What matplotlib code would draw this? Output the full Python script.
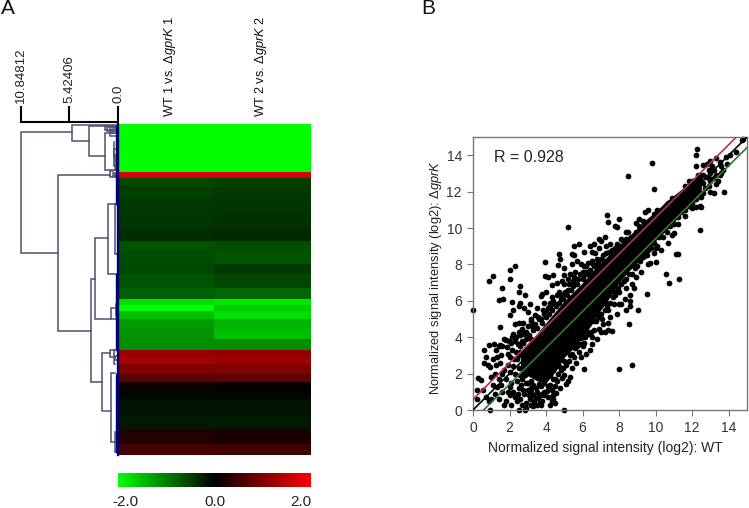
import matplotlib
matplotlib.use("Agg")
import numpy as np
import matplotlib.pyplot as plt
from matplotlib.colors import LinearSegmentedColormap

plt.rcParams['font.family'] = ['Liberation Sans', 'DejaVu Sans']
plt.rcParams['mathtext.fontset'] = 'custom'
plt.rcParams['mathtext.it'] = 'Liberation Sans:italic'
plt.rcParams['mathtext.rm'] = 'Liberation Sans'

# heatmap rows, top to bottom
row_edges = [0, 48, 54, 62, 75, 90, 105, 117, 125, 140, 150, 164, 175, 181, 187, 195, 205, 215, 226,
             233, 240, 250, 258, 266, 275, 290, 305, 320, 331]
wt1 = [-2.0, 1.7, -0.55, -0.5, -0.45, -0.42, -0.35, -0.65, -0.6, -0.55, -0.65, -0.75, -1.75, -2.0, -1.5, -1.2,
       -1.15, -1.1, 1.2, 1.3, 1.0, 0.7, 0.12, -0.05, -0.15, -0.2, 0.25, 0.55]
wt2 = [-2.0, 1.7, -0.5, -0.45, -0.42, -0.38, -0.32, -0.6, -0.65, -0.45, -0.55, -0.8, -1.8, -1.6, -1.75, -1.4,
       -1.5, -1.1, 1.15, 1.25, 1.0, 0.75, 0.08, -0.05, -0.15, -0.2, 0.2, 0.5]
col_names = ['WT 1 vs. Δ$\\mathit{gprK}$ 1', 'WT 2 vs. Δ$\\mathit{gprK}$ 2']
scale_ticks = [10.84812, 5.42406, 0.0]
scale_labels = ['10.84812', '5.42406', '0.0']
cbar_ticks = [-1.84, 0.0, 1.78]
cbar_labels = ['-2.0', '0.0', '2.0']

# dendrogram merges: height, top row, bottom row, height of top child, height of bottom child
merge_h = [10.85, 5.15, 3.25, 1.45, 6.7, 3.0, 2.55, 1.1, 0.3, 0.75, 1.75, 0.85, 0.8, 0.3,
           1.45, 1.2, 0.95, 0.7, 0.5, 0.4, 0.35, 0.9, 0.6, 0.35, 0.5, 0.3, 0.2]
merge_top = [8, 1, 2, 9, 51, 155, 114, 80, 80, 184, 229, 226, 249, 308,
             2, 3, 3, 5, 18, 25, 31, 47, 49, 50, 226, 232, 180]
merge_bot = [129, 17, 32, 46, 207, 258, 195, 150, 130, 195, 287, 233, 318, 328,
             6, 7, 12, 9, 34, 42, 46, 53, 52, 53, 240, 236, 192]
merge_top_child = [5.15, 0, 0, 0.4, 0.85, 2.55, 1.1, 0.3, 0, 0.3, 0.85, 0.5, 0.3, 0,
                   0, 0, 0, 0, 0.5, 0, 0, 0.6, 0, 0, 0, 0, 0]
merge_bot_child = [6.7, 3.25, 1.45, 0, 3.0, 1.75, 0.75, 0, 0, 0, 0.8, 0.3, 0.3, 0,
                   0, 0, 0, 0, 0.4, 0.35, 0, 0.35, 0, 0, 0.3, 0, 0]

# scatter: solid core of the cloud
band_x = [2.6, 3.0, 3.5, 4.0, 4.5, 5.0, 5.5, 6.0, 6.5, 7.0, 7.5, 8.0, 8.5, 9.0, 9.5, 10.0, 10.5, 11.0, 11.5, 12.0, 12.5]
band_lo = [2.0, 1.9, 1.6, 1.5, 2.1, 2.9, 3.4, 4.0, 4.7, 5.5, 6.2, 7.0, 7.6, 8.1, 8.7, 9.3, 9.8, 10.3, 10.9, 11.5, 12.0]
band_hi = [3.2, 3.6, 4.2, 4.8, 5.4, 6.0, 6.5, 7.0, 7.6, 8.1, 8.6, 9.0, 9.5, 10.0, 10.5, 10.9, 11.4, 11.8, 12.2, 12.7, 13.1]

top_pts = [(14.8, 14.9), (14.7, 14.85), (14.4, 14.2), (14.05, 14.0), (13.85, 13.9), (12.25, 14.35), (12.2, 14.0),
           (12.2, 13.4), (12.6, 13.45), (12.8, 13.5), (13.0, 13.7), (13.3, 13.85), (13.5, 13.65), (13.6, 13.4),
           (13.2, 13.2), (13.0, 13.0), (12.75, 12.8), (12.3, 12.9), (11.8, 12.6), (12.0, 12.6), (11.6, 12.3),
           (12.5, 12.5), (13.4, 12.6), (13.5, 12.9), (13.7, 13.2), (13.75, 12.0), (13.2, 11.9), (13.0, 12.0),
           (13.3, 12.4), (12.6, 11.9), (12.9, 12.3), (12.0, 11.1), (12.4, 11.2), (12.5, 11.15), (12.2, 11.15),
           (11.6, 10.65), (12.45, 9.9), (11.2, 10.2), (11.1, 11.6), (10.9, 11.65), (10.7, 11.4), (10.4, 11.0),
           (10.1, 11.0), (9.9, 10.75), (9.6, 11.0), (9.4, 10.9), (12.6, 12.9), (12.9, 13.2), (12.2, 12.2),
           (12.4, 12.7), (12.7, 12.2), (13.0, 12.6), (13.3, 12.9), (12.5, 11.7), (12.1, 11.6), (11.8, 11.3),
           (13.9, 13.5), (13.6, 13.0), (12.3, 12.0), (12.9, 12.75), (13.2, 12.75), (12.6, 12.5), (13.1, 13.4)]
upper_pts = [(9.8, 13.55), (8.5, 12.85), (9.9, 12.15), (8.0, 10.5), (7.35, 10.7), (7.4, 10.35), (7.75, 10.1),
             (7.9, 10.05), (8.4, 9.8), (8.5, 9.8), (9.1, 10.5), (8.9, 10.3), (9.3, 10.4), (9.1, 10.1), (9.5, 10.3),
             (7.2, 9.5), (7.0, 9.3), (6.9, 9.4), (7.3, 9.0), (7.5, 9.1), (8.1, 9.4), (8.3, 9.2), (8.8, 9.6),
             (5.2, 10.05), (5.55, 9.0), (5.8, 9.1), (4.7, 8.55), (4.75, 8.3), (5.4, 8.55), (5.55, 8.5), (6.1, 8.7),
             (6.4, 9.0), (6.5, 8.7), (6.6, 9.1), (6.7, 8.6), (6.9, 8.9), (3.95, 8.15), (4.65, 7.95), (5.0, 7.8),
             (5.4, 8.0), (5.7, 8.2), (5.9, 8.0), (6.1, 7.9), (6.3, 8.1), (6.0, 7.6), (5.6, 7.6), (4.4, 7.4),
             (4.1, 7.3), (3.95, 7.35), (4.3, 6.85), (4.7, 6.5), (5.0, 6.9), (4.85, 7.1), (5.2, 7.2), (4.0, 6.5),
             (3.8, 6.35), (3.7, 6.25), (3.9, 5.9), (4.3, 6.2), (4.6, 7.0), (5.3, 7.5), (5.5, 7.1), (5.0, 7.4),
             (6.5, 8.2), (6.8, 8.3), (7.1, 8.5), (7.6, 8.8), (7.9, 8.9), (8.5, 9.4), (4.5, 5.8), (4.1, 5.6),
             (3.5, 5.6), (3.4, 5.2), (3.6, 5.0), (3.2, 4.9), (3.3, 4.4), (3.0, 4.6), (2.8, 4.2), (3.9, 5.3),
             (4.2, 5.9), (4.8, 6.1), (5.2, 6.6), (5.6, 6.9), (6.2, 7.6), (6.6, 7.9)]
left_pts = [(0.0, 5.5), (0.9, 7.1), (1.1, 7.35), (2.0, 7.7), (2.3, 7.9), (2.0, 7.2), (2.6, 6.8), (2.5, 6.5),
            (2.85, 6.3), (3.1, 5.85), (2.15, 5.95), (1.65, 6.1), (1.4, 6.05), (1.6, 6.7), (2.6, 5.9), (2.8, 5.6),
            (3.0, 5.4), (2.0, 5.2), (2.2, 5.5), (2.5, 5.7), (1.5, 4.55), (2.3, 4.7), (2.5, 4.8), (2.2, 4.2),
            (2.3, 3.8), (2.45, 3.6), (1.7, 3.9), (1.8, 3.85), (1.4, 3.5), (1.55, 3.0), (1.3, 2.9), (1.2, 2.0),
            (1.4, 1.7), (1.1, 1.4), (0.6, 3.3), (0.7, 2.9), (0.9, 3.55), (0.8, 2.45), (0.6, 2.6), (0.95, 2.35),
            (1.15, 3.65), (1.25, 3.3), (1.6, 3.5), (1.1, 2.8), (1.5, 2.6), (1.7, 2.2), (1.9, 3.1), (2.1, 3.7),
            (2.0, 2.9), (2.35, 3.2), (2.6, 4.1), (2.7, 3.8), (2.6, 3.2), (2.9, 3.9), (2.4, 2.8), (1.6, 2.0),
            (1.8, 1.7), (0.3, 1.75), (0.45, 1.65), (0.2, 1.1), (0.55, 1.1), (0.2, 0.6), (0.7, 0.7), (0.85, 0.5),
            (0.95, 0.0), (1.2, 0.9), (1.25, 2.45), (1.5, 3.55), (2.15, 4.0), (2.7, 4.45), (3.15, 5.0)]
lower_pts = [(6.05, 2.25), (8.0, 2.25), (8.7, 2.5), (5.0, 0.0), (2.5, 0.0), (2.85, 0.0), (2.9, 0.1), (8.55, 4.7),
             (9.05, 5.5), (9.5, 6.35), (8.6, 5.7), (8.35, 5.5), (8.6, 6.0), (8.1, 5.85), (8.0, 5.8), (8.6, 6.3),
             (8.7, 6.9), (10.55, 7.5), (10.75, 7.0), (11.25, 7.2), (11.1, 8.55), (11.2, 8.55), (10.0, 8.15), (9.7, 8.1),
             (7.4, 4.8), (7.4, 4.4), (7.6, 4.35), (7.2, 4.3), (7.0, 4.3), (6.9, 4.45), (6.5, 4.0), (5.9, 3.95),
             (6.4, 3.3), (6.1, 3.7), (5.8, 3.2), (5.6, 3.4), (5.3, 3.0), (5.3, 1.8), (5.2, 1.6), (5.1, 1.45), (4.6, 1.6),
             (4.4, 1.7), (4.5, 1.3), (4.4, 0.8), (4.4, 0.6), (4.5, 0.4), (4.3, 0.5), (4.1, 0.7), (3.9, 0.8),
             (3.7, 0.25), (3.5, 0.3), (3.3, 0.2), (3.1, 0.6), (2.9, 0.4), (2.7, 0.3), (2.4, 0.5), (2.1, 0.25),
             (1.8, 0.5), (1.7, 0.3), (2.0, 0.8), (2.2, 1.0), (2.5, 1.2), (2.8, 0.9), (3.0, 1.1), (3.3, 0.8), (3.5, 1.0),
             (3.7, 1.3), (3.9, 1.5), (4.1, 1.3), (4.2, 1.9), (3.2, 1.6), (2.9, 1.5), (2.7, 1.7), (2.4, 1.6), (2.1, 1.5),
             (3.5, 1.8), (3.8, 2.0), (3.1, 2.0), (4.4, 2.2), (4.7, 2.4), (5.0, 2.7), (5.2, 3.4), (4.9, 3.2), (5.5, 3.9),
             (5.8, 4.2), (6.2, 4.4), (6.6, 4.9), (6.3, 4.9), (7.0, 5.3), (7.4, 5.5), (7.7, 5.8), (8.0, 6.5), (7.8, 6.3),
             (8.4, 6.7), (8.9, 7.3), (9.2, 7.6), (9.6, 8.0), (9.9, 8.6), (10.3, 8.8), (10.7, 9.2), (11.0, 9.7), (10.9, 9.6),
             (7.3, 5.9), (6.8, 5.6), (6.0, 4.7), (5.5, 4.5), (5.1, 3.9), (4.6, 3.0), (4.3, 2.7), (10.0, 8.9), (9.5, 8.5)]
# dots hugging the solid core
fringe_hi = [(2.6, 3.5), (2.75, 3.7), (2.9, 4.3), (3.05, 4.1), (3.15, 3.9), (3.25, 4.6), (3.4, 4.7), (3.5, 4.5),
             (3.55, 5.1), (3.7, 5.0), (3.75, 4.8), (3.85, 5.5), (4.0, 5.1), (4.0, 5.4), (4.15, 5.3), (4.2, 5.7),
             (4.35, 5.5), (4.4, 6.0), (4.55, 5.7), (4.6, 6.3), (4.7, 5.9), (4.85, 6.3), (4.95, 6.1), (5.05, 6.5),
             (5.15, 6.3), (5.25, 6.9), (5.35, 6.6), (5.45, 6.8), (5.55, 7.3), (5.7, 6.9), (5.75, 7.2), (5.85, 7.5),
             (6.0, 7.2), (6.1, 7.4), (6.2, 7.9), (6.3, 7.5), (6.4, 7.7), (6.55, 8.0), (6.7, 7.9), (6.85, 8.1),
             (7.0, 8.3), (7.15, 8.2), (7.3, 8.6), (7.45, 8.7), (7.6, 8.5), (7.75, 8.9), (7.9, 9.1), (8.05, 9.0),
             (8.2, 9.3), (8.35, 9.4), (8.5, 9.2), (8.65, 9.5), (8.8, 9.4), (8.95, 9.8), (9.1, 9.7), (9.25, 9.9),
             (9.4, 10.0), (9.55, 10.2), (9.7, 10.4), (9.85, 10.3), (10.0, 10.6), (10.2, 10.7), (10.35, 10.9),
             (10.55, 11.2), (10.75, 11.1), (10.95, 11.3), (11.15, 11.5), (11.35, 11.75), (11.5, 12.0)]
fringe_lo = [(3.0, 1.5), (3.15, 1.2), (3.3, 1.4), (3.45, 1.2), (3.6, 1.45), (3.75, 0.9), (3.9, 1.0), (4.05, 1.05),
             (4.2, 1.4), (4.35, 1.1), (4.5, 1.7), (4.65, 2.0), (4.8, 2.2), (4.95, 2.3), (5.1, 2.5), (5.25, 2.7),
             (5.4, 3.1), (5.55, 2.9), (5.7, 3.5), (5.85, 3.6), (6.0, 3.5), (6.15, 4.0), (6.3, 4.2), (6.45, 4.3),
             (6.6, 4.4), (6.75, 4.9), (6.9, 5.1), (7.05, 5.0), (7.2, 5.5), (7.35, 5.7), (7.5, 5.9), (7.65, 6.2),
             (7.8, 6.5), (7.95, 6.7), (8.1, 6.9), (8.25, 7.1), (8.4, 7.2), (8.55, 7.5), (8.7, 7.5), (8.85, 7.8),
             (9.0, 7.9), (9.15, 8.2), (9.3, 8.4), (9.45, 8.5), (9.6, 8.8), (9.75, 8.9), (9.9, 9.2), (10.05, 9.0),
             (10.2, 9.5), (10.4, 9.5), (10.6, 9.8), (10.8, 10.1), (11.0, 10.2), (11.2, 10.6), (11.4, 10.9),
             (11.6, 11.0), (11.8, 11.2), (12.0, 11.4), (12.2, 11.6)]
corner_pts = [(1.9, 1.0), (2.05, 1.25), (2.3, 0.7), (2.45, 0.9), (2.6, 0.6), (2.65, 1.4), (2.75, 1.1), (2.85, 1.9),
              (3.05, 0.85), (3.2, 1.0), (3.35, 0.5), (3.45, 0.65), (3.6, 0.75), (3.65, 0.5), (3.8, 0.5), (2.3, 2.0),
              (2.55, 1.9), (2.5, 2.3), (2.75, 2.2), (2.2, 2.4), (2.0, 2.1), (1.9, 2.5), (2.25, 2.8), (2.5, 3.0),
              (2.15, 3.3), (1.85, 3.45), (1.95, 3.8), (2.35, 4.0), (2.5, 4.3), (2.75, 4.8), (1.0, 1.8), (1.3, 1.25),
              (1.55, 1.35), (1.6, 1.0), (1.45, 0.6), (1.0, 0.6), (4.2, 0.25), (3.15, 0.25), (4.55, 0.95), (4.75, 1.2),
              (4.85, 1.75), (5.0, 1.9), (5.4, 2.3), (5.65, 2.6), (5.9, 2.9), (6.2, 3.1), (6.5, 3.6), (6.8, 3.9),
              (7.1, 4.7), (7.5, 5.1), (7.9, 5.3), (8.3, 6.1), (8.8, 6.7)]

line_offsets = [0.0, 0.58, -0.58]
line_colors = ['black', '#c0303f', '#2a7a3a']
scatter_ticks = [0, 2, 4, 6, 8, 10, 12, 14]
r_text = 'R = 0.928'

W, H = 749, 508


def box(left, top, right, bottom):
    return [left / W, 1 - bottom / H, (right - left) / W, (bottom - top) / H]


gr = LinearSegmentedColormap.from_list('gr', ['#00ff00', '#000000', '#ff0000'])
fig = plt.figure(figsize=(W / 100, H / 100), dpi=100)

# heatmap
ax = fig.add_axes(box(117, 124, 311, 455))
ax.pcolormesh([0, 1, 2], row_edges, np.array([wt1, wt2]).T, cmap=gr, vmin=-2, vmax=2)
ax.set_ylim(331, 0)
ax.axis('off')

# dendrogram, same rows as the heatmap
den = fig.add_axes(box(21, 124, 118, 455))
den.set_xlim(10.848, 0)
den.set_ylim(331, 0)
den.axis('off')
den_col = '#50506e'
for h, t, b, tc, bc in zip(merge_h, merge_top, merge_bot, merge_top_child, merge_bot_child):
    den.plot([tc, h, h, bc], [t, t, b, b], color=den_col, lw=1.1, solid_joinstyle='miter', clip_on=False)
den.plot([0.05, 0.05], [0, 331], color='#000070', lw=1.7, clip_on=False)
den.plot([0.25, 0.25], [2, 80], color='#000070', lw=1.0, clip_on=False)
den.plot([0.2, 0.2], [150, 226], color='#000070', lw=1.0, clip_on=False)
den.plot([0.2, 0.2], [250, 328], color='#000070', lw=1.0, clip_on=False)

# height scale above the dendrogram
sc = fig.add_axes(box(21, 107, 118, 122))
sc.set_xlim(10.848, 0)
sc.set_ylim(0, 1)
sc.patch.set_alpha(0)
for s in ['top', 'left', 'right']:
    sc.spines[s].set_visible(False)
sc.spines['bottom'].set_linewidth(1.5)
sc.spines['bottom'].set_position(('data', 0))
sc.set_yticks([])
sc.set_xticks([])
for t in scale_ticks:
    sc.plot([t, t], [0, 1], color='black', lw=1.5, clip_on=False)
for t, l in zip(scale_ticks, scale_labels):
    sc.text(t, 1.3, l, rotation=90, ha='center', va='bottom', fontsize=9.5, color='#222222', clip_on=False)

for x, name in zip([170, 261], col_names):
    fig.text(x / W, 1 - 117 / H, name, rotation=90, ha='center', va='bottom', fontsize=9.2, color='#111111')

# colour key
cb = fig.add_axes(box(118, 473, 311, 487))
cb.imshow(np.linspace(-2, 2, 256).reshape(1, -1), cmap=gr, aspect='auto', extent=[-2, 2, 0, 1], vmin=-2, vmax=2)
cb.axis('off')
for t, l in zip(cbar_ticks, cbar_labels):
    cb.text(t, -0.55, l, ha='center', va='top', fontsize=11, color='#222222')

# scatter
sx = fig.add_axes(box(473, 137, 747, 410))
sx.fill_between(band_x, band_lo, band_hi, color='black', lw=0, zorder=2)
for pts in [top_pts, upper_pts, left_pts, lower_pts, fringe_hi, fringe_lo, corner_pts]:
    xs, ys = zip(*pts)
    sx.scatter(xs, ys, s=17, color='black', lw=0, zorder=2, clip_on=False)
for off, c in zip(line_offsets, line_colors):
    sx.plot([0, 15], [off, 15 + off], color=c, lw=1.2, zorder=3)
sx.set_xlim(0, 15)
sx.set_ylim(0, 15)
sx.set_xticks(scatter_ticks)
sx.set_yticks(scatter_ticks)
sx.tick_params(length=4, width=0.8, color='#777777', labelcolor='#333333', labelsize=10, pad=4)
for s in sx.spines.values():
    s.set_color('#777777')
    s.set_linewidth(1.0)
sx.text(1.15, 13.85, r_text, fontsize=11.5, color='#222222', va='center')
fig.text(605 / W, 1 - 448 / H, 'Normalized signal intensity (log2): WT', ha='center', va='center', fontsize=10,
         color='#222222')
fig.text(436 / W, 1 - 277 / H, 'Normalized signal intensity (log2): Δ$\\mathit{gprK}$', rotation=90, ha='center',
         va='center', fontsize=9.3, color='#222222')

fig.text(1 / W, 1 - 9 / H, 'A', fontsize=15, va='center', color='#111111')
fig.text(421 / W, 1 - 9 / H, 'B', fontsize=15, va='center', color='#111111')

fig.savefig('out.png', dpi=100)
